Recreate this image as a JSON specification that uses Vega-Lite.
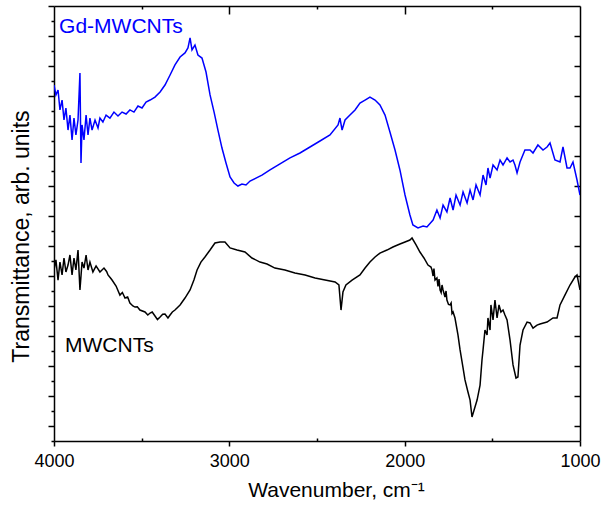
{
"$schema":"https://vega.github.io/schema/vega-lite/v6.json",
"width":526,"height":435,
"autosize":{"type":"none"},
"padding":{"left":54,"top":6,"right":28,"bottom":65},
"background":"white",
"config":{"view":{"stroke":null},"font":"Liberation Sans",
"axis":{"grid":false,"domainColor":"black","domainWidth":1.5,"tickColor":"black","tickWidth":1.5,"labelFont":"Liberation Sans","labelFontSize":18,"labelColor":"black","titleFont":"Liberation Sans","titleFontSize":21,"titleFontWeight":"normal","titleColor":"black"}},
"datasets":{
"spectra":[
{"sample":"Gd-MWCNTs","wavenumber":4000,"transmittance":23.73},
{"sample":"Gd-MWCNTs","wavenumber":3989,"transmittance":23.07},
{"sample":"Gd-MWCNTs","wavenumber":3977,"transmittance":23.40},
{"sample":"Gd-MWCNTs","wavenumber":3966,"transmittance":22.07},
{"sample":"Gd-MWCNTs","wavenumber":3954,"transmittance":22.73},
{"sample":"Gd-MWCNTs","wavenumber":3943,"transmittance":21.40},
{"sample":"Gd-MWCNTs","wavenumber":3932,"transmittance":22.20},
{"sample":"Gd-MWCNTs","wavenumber":3920,"transmittance":20.73},
{"sample":"Gd-MWCNTs","wavenumber":3909,"transmittance":21.73},
{"sample":"Gd-MWCNTs","wavenumber":3897,"transmittance":20.07},
{"sample":"Gd-MWCNTs","wavenumber":3886,"transmittance":21.53},
{"sample":"Gd-MWCNTs","wavenumber":3875,"transmittance":20.40},
{"sample":"Gd-MWCNTs","wavenumber":3863,"transmittance":21.40},
{"sample":"Gd-MWCNTs","wavenumber":3852,"transmittance":24.53},
{"sample":"Gd-MWCNTs","wavenumber":3846,"transmittance":18.53},
{"sample":"Gd-MWCNTs","wavenumber":3840,"transmittance":21.07},
{"sample":"Gd-MWCNTs","wavenumber":3829,"transmittance":20.07},
{"sample":"Gd-MWCNTs","wavenumber":3817,"transmittance":21.73},
{"sample":"Gd-MWCNTs","wavenumber":3806,"transmittance":20.40},
{"sample":"Gd-MWCNTs","wavenumber":3795,"transmittance":21.53},
{"sample":"Gd-MWCNTs","wavenumber":3783,"transmittance":20.73},
{"sample":"Gd-MWCNTs","wavenumber":3766,"transmittance":21.40},
{"sample":"Gd-MWCNTs","wavenumber":3749,"transmittance":20.87},
{"sample":"Gd-MWCNTs","wavenumber":3738,"transmittance":21.53},
{"sample":"Gd-MWCNTs","wavenumber":3721,"transmittance":21.27},
{"sample":"Gd-MWCNTs","wavenumber":3703,"transmittance":21.73},
{"sample":"Gd-MWCNTs","wavenumber":3681,"transmittance":21.53},
{"sample":"Gd-MWCNTs","wavenumber":3658,"transmittance":21.93},
{"sample":"Gd-MWCNTs","wavenumber":3635,"transmittance":21.67},
{"sample":"Gd-MWCNTs","wavenumber":3612,"transmittance":21.93},
{"sample":"Gd-MWCNTs","wavenumber":3589,"transmittance":21.80},
{"sample":"Gd-MWCNTs","wavenumber":3567,"transmittance":22.07},
{"sample":"Gd-MWCNTs","wavenumber":3544,"transmittance":21.93},
{"sample":"Gd-MWCNTs","wavenumber":3521,"transmittance":22.33},
{"sample":"Gd-MWCNTs","wavenumber":3498,"transmittance":22.20},
{"sample":"Gd-MWCNTs","wavenumber":3475,"transmittance":22.60},
{"sample":"Gd-MWCNTs","wavenumber":3452,"transmittance":22.73},
{"sample":"Gd-MWCNTs","wavenumber":3424,"transmittance":22.93},
{"sample":"Gd-MWCNTs","wavenumber":3395,"transmittance":23.27},
{"sample":"Gd-MWCNTs","wavenumber":3367,"transmittance":23.73},
{"sample":"Gd-MWCNTs","wavenumber":3338,"transmittance":24.40},
{"sample":"Gd-MWCNTs","wavenumber":3310,"transmittance":25.07},
{"sample":"Gd-MWCNTs","wavenumber":3281,"transmittance":25.60},
{"sample":"Gd-MWCNTs","wavenumber":3253,"transmittance":25.87},
{"sample":"Gd-MWCNTs","wavenumber":3236,"transmittance":26.20},
{"sample":"Gd-MWCNTs","wavenumber":3224,"transmittance":26.87},
{"sample":"Gd-MWCNTs","wavenumber":3213,"transmittance":26.07},
{"sample":"Gd-MWCNTs","wavenumber":3196,"transmittance":26.40},
{"sample":"Gd-MWCNTs","wavenumber":3179,"transmittance":25.73},
{"sample":"Gd-MWCNTs","wavenumber":3156,"transmittance":25.53},
{"sample":"Gd-MWCNTs","wavenumber":3133,"transmittance":24.60},
{"sample":"Gd-MWCNTs","wavenumber":3110,"transmittance":23.07},
{"sample":"Gd-MWCNTs","wavenumber":3087,"transmittance":21.93},
{"sample":"Gd-MWCNTs","wavenumber":3065,"transmittance":20.73},
{"sample":"Gd-MWCNTs","wavenumber":3042,"transmittance":19.53},
{"sample":"Gd-MWCNTs","wavenumber":3019,"transmittance":18.53},
{"sample":"Gd-MWCNTs","wavenumber":2996,"transmittance":17.60},
{"sample":"Gd-MWCNTs","wavenumber":2973,"transmittance":17.20},
{"sample":"Gd-MWCNTs","wavenumber":2951,"transmittance":17.00},
{"sample":"Gd-MWCNTs","wavenumber":2928,"transmittance":17.13},
{"sample":"Gd-MWCNTs","wavenumber":2905,"transmittance":17.07},
{"sample":"Gd-MWCNTs","wavenumber":2882,"transmittance":17.33},
{"sample":"Gd-MWCNTs","wavenumber":2848,"transmittance":17.53},
{"sample":"Gd-MWCNTs","wavenumber":2814,"transmittance":17.73},
{"sample":"Gd-MWCNTs","wavenumber":2768,"transmittance":18.07},
{"sample":"Gd-MWCNTs","wavenumber":2711,"transmittance":18.47},
{"sample":"Gd-MWCNTs","wavenumber":2654,"transmittance":18.87},
{"sample":"Gd-MWCNTs","wavenumber":2597,"transmittance":19.20},
{"sample":"Gd-MWCNTs","wavenumber":2540,"transmittance":19.60},
{"sample":"Gd-MWCNTs","wavenumber":2483,"transmittance":20.00},
{"sample":"Gd-MWCNTs","wavenumber":2426,"transmittance":20.40},
{"sample":"Gd-MWCNTs","wavenumber":2380,"transmittance":21.07},
{"sample":"Gd-MWCNTs","wavenumber":2369,"transmittance":21.53},
{"sample":"Gd-MWCNTs","wavenumber":2357,"transmittance":20.73},
{"sample":"Gd-MWCNTs","wavenumber":2340,"transmittance":21.40},
{"sample":"Gd-MWCNTs","wavenumber":2312,"transmittance":21.73},
{"sample":"Gd-MWCNTs","wavenumber":2283,"transmittance":22.07},
{"sample":"Gd-MWCNTs","wavenumber":2255,"transmittance":22.53},
{"sample":"Gd-MWCNTs","wavenumber":2226,"transmittance":22.73},
{"sample":"Gd-MWCNTs","wavenumber":2198,"transmittance":22.93},
{"sample":"Gd-MWCNTs","wavenumber":2169,"transmittance":22.73},
{"sample":"Gd-MWCNTs","wavenumber":2141,"transmittance":22.40},
{"sample":"Gd-MWCNTs","wavenumber":2112,"transmittance":21.73},
{"sample":"Gd-MWCNTs","wavenumber":2084,"transmittance":20.60},
{"sample":"Gd-MWCNTs","wavenumber":2055,"transmittance":19.40},
{"sample":"Gd-MWCNTs","wavenumber":2027,"transmittance":18.07},
{"sample":"Gd-MWCNTs","wavenumber":1998,"transmittance":16.40},
{"sample":"Gd-MWCNTs","wavenumber":1970,"transmittance":15.07},
{"sample":"Gd-MWCNTs","wavenumber":1953,"transmittance":14.40},
{"sample":"Gd-MWCNTs","wavenumber":1924,"transmittance":14.20},
{"sample":"Gd-MWCNTs","wavenumber":1895,"transmittance":14.33},
{"sample":"Gd-MWCNTs","wavenumber":1873,"transmittance":14.27},
{"sample":"Gd-MWCNTs","wavenumber":1838,"transmittance":14.73},
{"sample":"Gd-MWCNTs","wavenumber":1816,"transmittance":15.40},
{"sample":"Gd-MWCNTs","wavenumber":1798,"transmittance":14.87},
{"sample":"Gd-MWCNTs","wavenumber":1781,"transmittance":15.73},
{"sample":"Gd-MWCNTs","wavenumber":1759,"transmittance":15.27},
{"sample":"Gd-MWCNTs","wavenumber":1741,"transmittance":16.20},
{"sample":"Gd-MWCNTs","wavenumber":1724,"transmittance":15.40},
{"sample":"Gd-MWCNTs","wavenumber":1707,"transmittance":16.40},
{"sample":"Gd-MWCNTs","wavenumber":1684,"transmittance":15.73},
{"sample":"Gd-MWCNTs","wavenumber":1667,"transmittance":16.60},
{"sample":"Gd-MWCNTs","wavenumber":1644,"transmittance":15.87},
{"sample":"Gd-MWCNTs","wavenumber":1627,"transmittance":16.73},
{"sample":"Gd-MWCNTs","wavenumber":1610,"transmittance":16.07},
{"sample":"Gd-MWCNTs","wavenumber":1593,"transmittance":17.07},
{"sample":"Gd-MWCNTs","wavenumber":1570,"transmittance":16.40},
{"sample":"Gd-MWCNTs","wavenumber":1553,"transmittance":17.73},
{"sample":"Gd-MWCNTs","wavenumber":1536,"transmittance":17.07},
{"sample":"Gd-MWCNTs","wavenumber":1525,"transmittance":18.20},
{"sample":"Gd-MWCNTs","wavenumber":1513,"transmittance":17.53},
{"sample":"Gd-MWCNTs","wavenumber":1496,"transmittance":18.40},
{"sample":"Gd-MWCNTs","wavenumber":1473,"transmittance":18.07},
{"sample":"Gd-MWCNTs","wavenumber":1456,"transmittance":18.73},
{"sample":"Gd-MWCNTs","wavenumber":1439,"transmittance":18.40},
{"sample":"Gd-MWCNTs","wavenumber":1416,"transmittance":18.87},
{"sample":"Gd-MWCNTs","wavenumber":1399,"transmittance":18.60},
{"sample":"Gd-MWCNTs","wavenumber":1382,"transmittance":18.73},
{"sample":"Gd-MWCNTs","wavenumber":1371,"transmittance":18.40},
{"sample":"Gd-MWCNTs","wavenumber":1359,"transmittance":17.87},
{"sample":"Gd-MWCNTs","wavenumber":1342,"transmittance":18.60},
{"sample":"Gd-MWCNTs","wavenumber":1314,"transmittance":19.40},
{"sample":"Gd-MWCNTs","wavenumber":1285,"transmittance":19.40},
{"sample":"Gd-MWCNTs","wavenumber":1268,"transmittance":19.20},
{"sample":"Gd-MWCNTs","wavenumber":1240,"transmittance":19.73},
{"sample":"Gd-MWCNTs","wavenumber":1211,"transmittance":19.40},
{"sample":"Gd-MWCNTs","wavenumber":1188,"transmittance":19.60},
{"sample":"Gd-MWCNTs","wavenumber":1171,"transmittance":19.87},
{"sample":"Gd-MWCNTs","wavenumber":1143,"transmittance":18.73},
{"sample":"Gd-MWCNTs","wavenumber":1114,"transmittance":18.60},
{"sample":"Gd-MWCNTs","wavenumber":1097,"transmittance":19.60},
{"sample":"Gd-MWCNTs","wavenumber":1074,"transmittance":18.20},
{"sample":"Gd-MWCNTs","wavenumber":1057,"transmittance":18.20},
{"sample":"Gd-MWCNTs","wavenumber":1040,"transmittance":18.60},
{"sample":"Gd-MWCNTs","wavenumber":1017,"transmittance":17.40},
{"sample":"Gd-MWCNTs","wavenumber":1000,"transmittance":16.40},
{"sample":"MWCNTs","wavenumber":4000,"transmittance":11.40},
{"sample":"MWCNTs","wavenumber":3989,"transmittance":12.07},
{"sample":"MWCNTs","wavenumber":3977,"transmittance":10.73},
{"sample":"MWCNTs","wavenumber":3966,"transmittance":11.93},
{"sample":"MWCNTs","wavenumber":3954,"transmittance":11.07},
{"sample":"MWCNTs","wavenumber":3943,"transmittance":12.20},
{"sample":"MWCNTs","wavenumber":3932,"transmittance":11.27},
{"sample":"MWCNTs","wavenumber":3920,"transmittance":11.73},
{"sample":"MWCNTs","wavenumber":3909,"transmittance":12.40},
{"sample":"MWCNTs","wavenumber":3897,"transmittance":11.07},
{"sample":"MWCNTs","wavenumber":3886,"transmittance":12.20},
{"sample":"MWCNTs","wavenumber":3875,"transmittance":11.40},
{"sample":"MWCNTs","wavenumber":3863,"transmittance":12.73},
{"sample":"MWCNTs","wavenumber":3852,"transmittance":10.07},
{"sample":"MWCNTs","wavenumber":3840,"transmittance":11.93},
{"sample":"MWCNTs","wavenumber":3829,"transmittance":11.53},
{"sample":"MWCNTs","wavenumber":3817,"transmittance":12.40},
{"sample":"MWCNTs","wavenumber":3806,"transmittance":11.40},
{"sample":"MWCNTs","wavenumber":3795,"transmittance":11.93},
{"sample":"MWCNTs","wavenumber":3778,"transmittance":11.27},
{"sample":"MWCNTs","wavenumber":3760,"transmittance":11.67},
{"sample":"MWCNTs","wavenumber":3738,"transmittance":11.27},
{"sample":"MWCNTs","wavenumber":3715,"transmittance":11.53},
{"sample":"MWCNTs","wavenumber":3700,"transmittance":11.30},
{"sample":"MWCNTs","wavenumber":3692,"transmittance":11.07},
{"sample":"MWCNTs","wavenumber":3680,"transmittance":10.90},
{"sample":"MWCNTs","wavenumber":3669,"transmittance":10.73},
{"sample":"MWCNTs","wavenumber":3646,"transmittance":10.33},
{"sample":"MWCNTs","wavenumber":3624,"transmittance":9.73},
{"sample":"MWCNTs","wavenumber":3610,"transmittance":9.90},
{"sample":"MWCNTs","wavenumber":3595,"transmittance":9.53},
{"sample":"MWCNTs","wavenumber":3580,"transmittance":9.60},
{"sample":"MWCNTs","wavenumber":3567,"transmittance":9.20},
{"sample":"MWCNTs","wavenumber":3550,"transmittance":9.00},
{"sample":"MWCNTs","wavenumber":3538,"transmittance":8.93},
{"sample":"MWCNTs","wavenumber":3525,"transmittance":8.95},
{"sample":"MWCNTs","wavenumber":3510,"transmittance":8.73},
{"sample":"MWCNTs","wavenumber":3481,"transmittance":8.60},
{"sample":"MWCNTs","wavenumber":3465,"transmittance":8.40},
{"sample":"MWCNTs","wavenumber":3452,"transmittance":8.53},
{"sample":"MWCNTs","wavenumber":3440,"transmittance":8.60},
{"sample":"MWCNTs","wavenumber":3424,"transmittance":8.33},
{"sample":"MWCNTs","wavenumber":3410,"transmittance":8.10},
{"sample":"MWCNTs","wavenumber":3395,"transmittance":8.27},
{"sample":"MWCNTs","wavenumber":3380,"transmittance":8.45},
{"sample":"MWCNTs","wavenumber":3367,"transmittance":8.47},
{"sample":"MWCNTs","wavenumber":3350,"transmittance":8.20},
{"sample":"MWCNTs","wavenumber":3338,"transmittance":8.40},
{"sample":"MWCNTs","wavenumber":3325,"transmittance":8.60},
{"sample":"MWCNTs","wavenumber":3310,"transmittance":8.73},
{"sample":"MWCNTs","wavenumber":3281,"transmittance":9.07},
{"sample":"MWCNTs","wavenumber":3253,"transmittance":9.53},
{"sample":"MWCNTs","wavenumber":3224,"transmittance":10.07},
{"sample":"MWCNTs","wavenumber":3202,"transmittance":10.73},
{"sample":"MWCNTs","wavenumber":3184,"transmittance":11.40},
{"sample":"MWCNTs","wavenumber":3162,"transmittance":11.93},
{"sample":"MWCNTs","wavenumber":3139,"transmittance":12.27},
{"sample":"MWCNTs","wavenumber":3110,"transmittance":12.73},
{"sample":"MWCNTs","wavenumber":3082,"transmittance":13.20},
{"sample":"MWCNTs","wavenumber":3053,"transmittance":13.27},
{"sample":"MWCNTs","wavenumber":3025,"transmittance":13.27},
{"sample":"MWCNTs","wavenumber":2996,"transmittance":12.87},
{"sample":"MWCNTs","wavenumber":2956,"transmittance":12.73},
{"sample":"MWCNTs","wavenumber":2911,"transmittance":12.60},
{"sample":"MWCNTs","wavenumber":2871,"transmittance":12.20},
{"sample":"MWCNTs","wavenumber":2825,"transmittance":11.93},
{"sample":"MWCNTs","wavenumber":2785,"transmittance":11.80},
{"sample":"MWCNTs","wavenumber":2740,"transmittance":11.53},
{"sample":"MWCNTs","wavenumber":2683,"transmittance":11.40},
{"sample":"MWCNTs","wavenumber":2626,"transmittance":11.20},
{"sample":"MWCNTs","wavenumber":2568,"transmittance":11.07},
{"sample":"MWCNTs","wavenumber":2511,"transmittance":10.87},
{"sample":"MWCNTs","wavenumber":2454,"transmittance":10.73},
{"sample":"MWCNTs","wavenumber":2397,"transmittance":10.60},
{"sample":"MWCNTs","wavenumber":2375,"transmittance":10.40},
{"sample":"MWCNTs","wavenumber":2363,"transmittance":8.73},
{"sample":"MWCNTs","wavenumber":2352,"transmittance":9.93},
{"sample":"MWCNTs","wavenumber":2335,"transmittance":10.40},
{"sample":"MWCNTs","wavenumber":2300,"transmittance":10.73},
{"sample":"MWCNTs","wavenumber":2255,"transmittance":11.07},
{"sample":"MWCNTs","wavenumber":2226,"transmittance":11.53},
{"sample":"MWCNTs","wavenumber":2198,"transmittance":11.93},
{"sample":"MWCNTs","wavenumber":2169,"transmittance":12.27},
{"sample":"MWCNTs","wavenumber":2141,"transmittance":12.53},
{"sample":"MWCNTs","wavenumber":2101,"transmittance":12.73},
{"sample":"MWCNTs","wavenumber":2067,"transmittance":12.93},
{"sample":"MWCNTs","wavenumber":2027,"transmittance":13.13},
{"sample":"MWCNTs","wavenumber":1998,"transmittance":13.27},
{"sample":"MWCNTs","wavenumber":1970,"transmittance":13.40},
{"sample":"MWCNTs","wavenumber":1958,"transmittance":13.53},
{"sample":"MWCNTs","wavenumber":1935,"transmittance":13.07},
{"sample":"MWCNTs","wavenumber":1913,"transmittance":12.60},
{"sample":"MWCNTs","wavenumber":1890,"transmittance":12.20},
{"sample":"MWCNTs","wavenumber":1867,"transmittance":11.73},
{"sample":"MWCNTs","wavenumber":1850,"transmittance":11.60},
{"sample":"MWCNTs","wavenumber":1844,"transmittance":11.40},
{"sample":"MWCNTs","wavenumber":1838,"transmittance":11.00},
{"sample":"MWCNTs","wavenumber":1833,"transmittance":11.50},
{"sample":"MWCNTs","wavenumber":1827,"transmittance":10.73},
{"sample":"MWCNTs","wavenumber":1816,"transmittance":10.87},
{"sample":"MWCNTs","wavenumber":1810,"transmittance":10.30},
{"sample":"MWCNTs","wavenumber":1804,"transmittance":10.80},
{"sample":"MWCNTs","wavenumber":1798,"transmittance":10.07},
{"sample":"MWCNTs","wavenumber":1792,"transmittance":9.90},
{"sample":"MWCNTs","wavenumber":1787,"transmittance":10.40},
{"sample":"MWCNTs","wavenumber":1781,"transmittance":10.07},
{"sample":"MWCNTs","wavenumber":1770,"transmittance":9.60},
{"sample":"MWCNTs","wavenumber":1764,"transmittance":10.00},
{"sample":"MWCNTs","wavenumber":1759,"transmittance":9.40},
{"sample":"MWCNTs","wavenumber":1750,"transmittance":9.10},
{"sample":"MWCNTs","wavenumber":1741,"transmittance":9.07},
{"sample":"MWCNTs","wavenumber":1735,"transmittance":9.20},
{"sample":"MWCNTs","wavenumber":1730,"transmittance":8.50},
{"sample":"MWCNTs","wavenumber":1724,"transmittance":8.60},
{"sample":"MWCNTs","wavenumber":1713,"transmittance":8.20},
{"sample":"MWCNTs","wavenumber":1696,"transmittance":7.07},
{"sample":"MWCNTs","wavenumber":1684,"transmittance":6.07},
{"sample":"MWCNTs","wavenumber":1667,"transmittance":4.87},
{"sample":"MWCNTs","wavenumber":1656,"transmittance":4.07},
{"sample":"MWCNTs","wavenumber":1639,"transmittance":3.27},
{"sample":"MWCNTs","wavenumber":1627,"transmittance":2.73},
{"sample":"MWCNTs","wavenumber":1616,"transmittance":1.60},
{"sample":"MWCNTs","wavenumber":1604,"transmittance":2.07},
{"sample":"MWCNTs","wavenumber":1587,"transmittance":2.73},
{"sample":"MWCNTs","wavenumber":1570,"transmittance":3.73},
{"sample":"MWCNTs","wavenumber":1559,"transmittance":5.40},
{"sample":"MWCNTs","wavenumber":1553,"transmittance":6.07},
{"sample":"MWCNTs","wavenumber":1542,"transmittance":7.40},
{"sample":"MWCNTs","wavenumber":1530,"transmittance":7.07},
{"sample":"MWCNTs","wavenumber":1525,"transmittance":8.20},
{"sample":"MWCNTs","wavenumber":1513,"transmittance":7.40},
{"sample":"MWCNTs","wavenumber":1508,"transmittance":9.07},
{"sample":"MWCNTs","wavenumber":1496,"transmittance":8.07},
{"sample":"MWCNTs","wavenumber":1485,"transmittance":9.40},
{"sample":"MWCNTs","wavenumber":1473,"transmittance":8.20},
{"sample":"MWCNTs","wavenumber":1462,"transmittance":9.07},
{"sample":"MWCNTs","wavenumber":1451,"transmittance":8.60},
{"sample":"MWCNTs","wavenumber":1439,"transmittance":8.73},
{"sample":"MWCNTs","wavenumber":1428,"transmittance":8.40},
{"sample":"MWCNTs","wavenumber":1416,"transmittance":8.07},
{"sample":"MWCNTs","wavenumber":1399,"transmittance":6.73},
{"sample":"MWCNTs","wavenumber":1382,"transmittance":5.07},
{"sample":"MWCNTs","wavenumber":1365,"transmittance":4.20},
{"sample":"MWCNTs","wavenumber":1354,"transmittance":4.27},
{"sample":"MWCNTs","wavenumber":1342,"transmittance":6.40},
{"sample":"MWCNTs","wavenumber":1325,"transmittance":7.40},
{"sample":"MWCNTs","wavenumber":1302,"transmittance":7.93},
{"sample":"MWCNTs","wavenumber":1285,"transmittance":7.87},
{"sample":"MWCNTs","wavenumber":1268,"transmittance":7.53},
{"sample":"MWCNTs","wavenumber":1245,"transmittance":7.73},
{"sample":"MWCNTs","wavenumber":1228,"transmittance":7.80},
{"sample":"MWCNTs","wavenumber":1188,"transmittance":7.93},
{"sample":"MWCNTs","wavenumber":1154,"transmittance":8.20},
{"sample":"MWCNTs","wavenumber":1131,"transmittance":8.20},
{"sample":"MWCNTs","wavenumber":1114,"transmittance":9.07},
{"sample":"MWCNTs","wavenumber":1086,"transmittance":9.73},
{"sample":"MWCNTs","wavenumber":1057,"transmittance":10.40},
{"sample":"MWCNTs","wavenumber":1029,"transmittance":10.93},
{"sample":"MWCNTs","wavenumber":1017,"transmittance":11.07},
{"sample":"MWCNTs","wavenumber":1000,"transmittance":10.07}
],
"labels":[
{"sample":"Gd-MWCNTs","label":"Gd-MWCNTs","wavenumber":3971,"transmittance":27.2},
{"sample":"MWCNTs","label":"MWCNTs","wavenumber":3937,"transmittance":5.93}
]},
"resolve":{"axis":{"x":"independent","y":"independent"}},
"layer":[
{"data":{"name":"spectra"},
"mark":{"type":"line","strokeWidth":1.5,"clip":true},
"encoding":{
"x":{"field":"wavenumber","type":"quantitative","scale":{"domain":[1000,4000],"reverse":true,"nice":false,"zero":false},
"axis":{"orient":"bottom","values":[4000,3500,3000,2500,2000,1500,1000],"format":"d","labelExpr":"datum.value % 1000 === 0 ? datum.label : ''","tickSize":{"condition":{"test":"datum.value % 1000 === 0","value":5},"value":-3},"labelPadding":6,"labelFlush":false,"labelOverlap":false,"title":"Wavenumber, cm⁻¹","titlePadding":9,"titleX":282}},
"y":{"field":"transmittance","type":"quantitative","scale":{"domain":[0,29],"nice":false,"zero":false},
"axis":{"orient":"left","values":[0,1,2,3,4,5,6,7,8,9,10,11,12,13,14,15,16,17,18,19,20,21,22,23,24,25,26,27,28,29],"labels":false,"tickSize":{"condition":{"test":"datum.value % 2 === 1","value":6},"value":3},"title":"Transmittance, arb. units","titleFontSize":23,"titlePadding":14,"titleY":230}},
"color":{"field":"sample","type":"nominal","scale":{"domain":["Gd-MWCNTs","MWCNTs"],"range":["#0000FF","#000000"]},"legend":null}}},
{"data":{"name":"labels"},
"mark":{"type":"text","align":"left","baseline":"alphabetic","fontSize":21,"font":"Liberation Sans"},
"encoding":{
"x":{"field":"wavenumber","type":"quantitative","scale":{"domain":[1000,4000],"reverse":true,"nice":false,"zero":false},
"axis":{"orient":"top","values":[3500,3000,2500,2000,1500],"labels":false,"tickSize":{"condition":{"test":"datum.value % 1000 === 0","value":-8},"value":-3},"title":null}},
"y":{"field":"transmittance","type":"quantitative","scale":{"domain":[0,29],"nice":false,"zero":false},
"axis":{"orient":"right","values":[1,3,5,7,9,11,13,15,17,19,21,23,25,27],"labels":false,"tickSize":-6,"title":null}},
"text":{"field":"label"},
"color":{"field":"sample","type":"nominal","scale":{"domain":["Gd-MWCNTs","MWCNTs"],"range":["#0000FF","#000000"]},"legend":null}}}
]
}
